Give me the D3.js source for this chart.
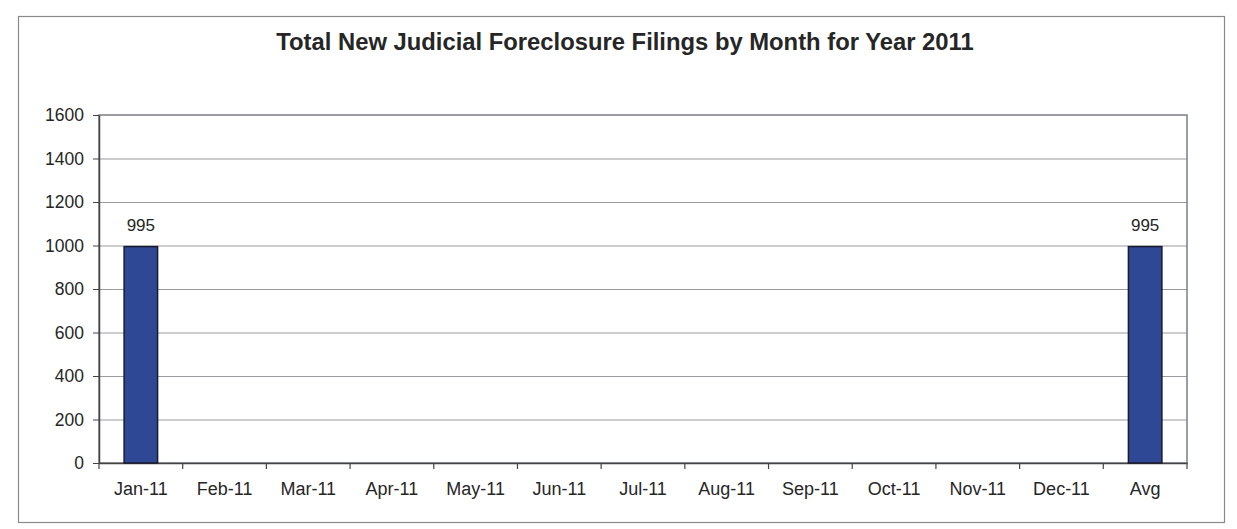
<!DOCTYPE html>
<html>
<head>
<meta charset="utf-8">
<script src="https://cdn.jsdelivr.net/npm/d3@7"></script>
<style>
  html, body { margin: 0; padding: 0; background: #fff; }
  svg { display: block; font-family: "Liberation Sans", Arial, sans-serif; }
</style>
</head>
<body>
<svg id="chart" width="1237" height="529"></svg>
<script>
// Monthly new judicial foreclosure filings, 2011 (only January reported) plus the average
const categories = ["Jan-11", "Feb-11", "Mar-11", "Apr-11", "May-11", "Jun-11",
                    "Jul-11", "Aug-11", "Sep-11", "Oct-11", "Nov-11", "Dec-11", "Avg"];
const filings = [995, null, null, null, null, null, null, null, null, null, null, null, 995];
const yTicks = [0, 200, 400, 600, 800, 1000, 1200, 1400, 1600];
const chartTitle = "Total New Judicial Foreclosure Filings by Month for Year 2011";

const svg = d3.select("#chart");
const plot = { left: 99, top: 115, right: 1187, bottom: 463 };

// outer chart frame
svg.append("rect")
  .attr("x", 18.5).attr("y", 16.5)
  .attr("width", 1206).attr("height", 506)
  .attr("fill", "#fff").attr("stroke", "#8a8a8a").attr("stroke-width", 1.2);

svg.append("text")
  .attr("x", 625).attr("y", 50)
  .attr("text-anchor", "middle")
  .attr("font-size", 23.8).attr("font-weight", "bold")
  .attr("fill", "#262626")
  .text(chartTitle);

const x = d3.scaleBand().domain(categories)
  .range([plot.left, plot.right]).paddingInner(0).paddingOuter(0);
const y = d3.scaleLinear().domain([0, 1600]).range([plot.bottom, plot.top]);

// horizontal gridlines
svg.append("g").selectAll("line").data(yTicks.filter(t => t > 0 && t < 1600)).join("line")
  .attr("x1", plot.left).attr("x2", plot.right)
  .attr("y1", d => y(d) + 0.5).attr("y2", d => y(d) + 0.5)
  .attr("stroke", "#9a9aa0").attr("stroke-width", 1);

// plot-area border
svg.append("rect")
  .attr("x", plot.left).attr("y", plot.top)
  .attr("width", plot.right - plot.left).attr("height", plot.bottom - plot.top)
  .attr("fill", "none").attr("stroke", "#7c7c88").attr("stroke-width", 1.5);

// y axis
const yAxis = svg.append("g")
  .attr("transform", `translate(${plot.left},0)`)
  .call(d3.axisLeft(y).tickValues(yTicks).tickFormat(d3.format("d"))
    .tickSize(6).tickPadding(9).tickSizeOuter(0));
yAxis.select(".domain").attr("stroke", "#444").attr("stroke-width", 1.5);
yAxis.selectAll(".tick line").attr("stroke", "#444");
yAxis.selectAll(".tick text")
  .attr("font-size", 17.5).attr("fill", "#262626")
  .attr("font-family", "Liberation Sans, Arial, sans-serif");

// x axis with ticks between categories
const xAxis = svg.append("g")
  .attr("transform", `translate(0,${plot.bottom})`)
  .call(d3.axisBottom(x).tickSize(0).tickPadding(19).tickSizeOuter(0));
xAxis.select(".domain").attr("stroke", "#444").attr("stroke-width", 1.5);
xAxis.selectAll(".tick text")
  .attr("font-size", 18).attr("fill", "#262626")
  .attr("font-family", "Liberation Sans, Arial, sans-serif");
const boundaries = d3.range(categories.length + 1).map(i => plot.left + i * x.step());
svg.append("g").selectAll("line").data(boundaries).join("line")
  .attr("x1", d => d).attr("x2", d => d)
  .attr("y1", plot.bottom).attr("y2", plot.bottom + 6)
  .attr("stroke", "#444").attr("stroke-width", 1.2);

// bars
const barW = x.bandwidth() * 0.4;
const withData = categories.map((c, i) => ({ c, v: filings[i] })).filter(d => d.v != null);
svg.append("g").selectAll("rect").data(withData).join("rect")
  .attr("x", d => x(d.c) + (x.bandwidth() - barW) / 2)
  .attr("y", d => y(d.v))
  .attr("width", barW)
  .attr("height", d => y(0) - y(d.v))
  .attr("fill", "#2f4896").attr("stroke", "#1a1a2a").attr("stroke-width", 1.5);

// value labels
svg.append("g").selectAll("text").data(withData).join("text")
  .attr("x", d => x(d.c) + x.bandwidth() / 2)
  .attr("y", d => y(d.v) - 16)
  .attr("text-anchor", "middle")
  .attr("font-size", 17).attr("fill", "#262626")
  .text(d => d.v);
</script>
</body>
</html>
